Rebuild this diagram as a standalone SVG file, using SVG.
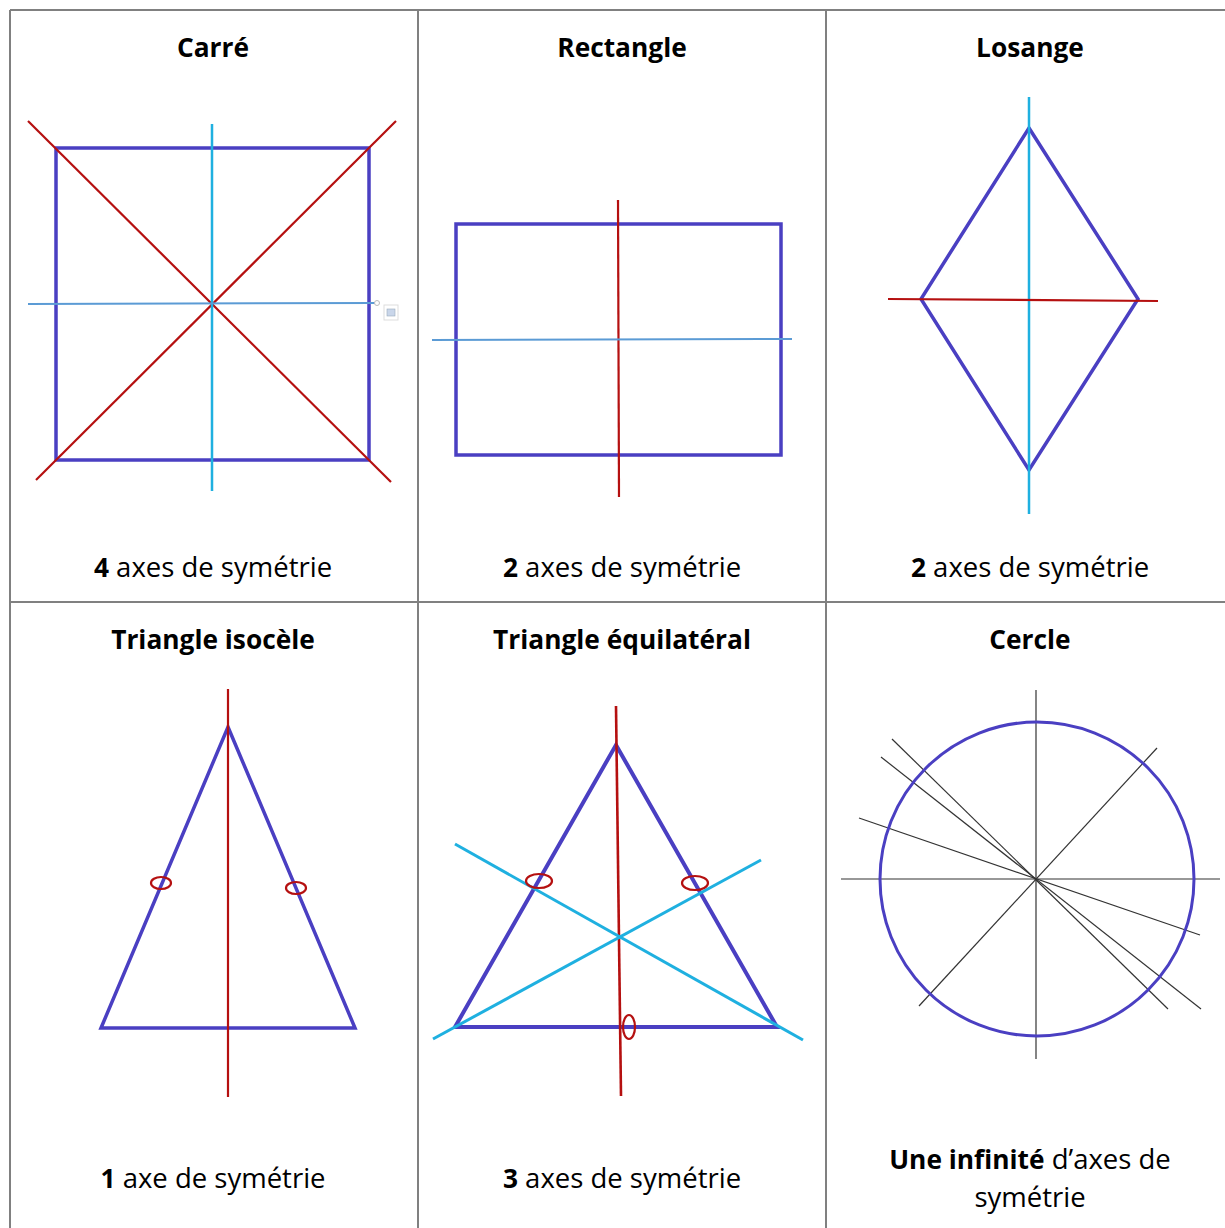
<svg xmlns="http://www.w3.org/2000/svg" width="1225" height="1228" viewBox="0 0 1225 1228">
<style>
.grid{stroke:#808080;stroke-width:2;fill:none}
.shape{stroke:#4a3fc2;stroke-width:3.5;fill:none;stroke-linejoin:miter}
.red{stroke:#b51010;stroke-width:2.2;fill:none}
.cyan{stroke:#1fb0e0;stroke-width:2.5;fill:none}
.lblue{stroke:#5b9bd5;stroke-width:2;fill:none}
.blk{stroke:#333;stroke-width:1.2;fill:none}
.t{font-family:"Open Sans","Noto Sans",sans-serif;font-size:27.5px;fill:#000;text-anchor:middle}
.b{font-weight:bold;font-size:26.3px}
</style>
<rect width="1225" height="1228" fill="#fff"/>
<g id="grid">
<path class="grid" d="M10,10 H1225 M10,10 V1228 M418,10 V1228 M826,10 V1228 M10,602 H1225"/>
</g>
<g id="carre">
<text class="t b" x="213" y="57">Carré</text>
<rect class="shape" x="56" y="148" width="313" height="312"/>
<line class="red" x1="28" y1="121" x2="391" y2="482"/>
<line class="red" x1="396" y1="121" x2="36" y2="480"/>
<line class="cyan" x1="212" y1="124" x2="212" y2="491"/>
<line class="lblue" x1="28" y1="304" x2="376" y2="303"/>
<circle cx="377" cy="303" r="2.5" fill="#fff" stroke="#bbb" stroke-width="1"/>
<rect x="384" y="305" width="14" height="15" fill="#fff" stroke="#ddd" stroke-width="1"/>
<rect x="387" y="309" width="8" height="7" fill="#c9d6ea" stroke="#9ab" stroke-width="0.6"/>
<text class="t" x="213" y="577"><tspan class="b">4</tspan> axes de symétrie</text>
</g>
<g id="rectangle">
<text class="t b" x="622" y="57">Rectangle</text>
<rect class="shape" x="456" y="224" width="325" height="231"/>
<line class="red" x1="618" y1="200" x2="619" y2="497"/>
<line class="lblue" x1="432" y1="340" x2="792" y2="339"/>
<text class="t" x="622" y="577"><tspan class="b">2</tspan> axes de symétrie</text>
</g>
<g id="losange">
<text class="t b" x="1030" y="57">Losange</text>
<polygon class="shape" points="1029,128 1138,299 1029,470 921,299"/>
<line class="cyan" x1="1029" y1="97" x2="1029" y2="514"/>
<line class="red" x1="888" y1="299" x2="1158" y2="301"/>
<text class="t" x="1030" y="577"><tspan class="b">2</tspan> axes de symétrie</text>
</g>
<g id="isocele">
<text class="t b" x="213" y="649">Triangle isocèle</text>
<polygon class="shape" points="228,727 355,1028 101,1028"/>
<line class="red" x1="228" y1="689" x2="228" y2="1097"/>
<ellipse class="red" cx="161" cy="883" rx="10" ry="6"/>
<ellipse class="red" cx="296" cy="888" rx="10" ry="6"/>
<text class="t" x="213" y="1188"><tspan class="b">1</tspan> axe de symétrie</text>
</g>
<g id="equilateral">
<text class="t b" x="622" y="649">Triangle équilatéral</text>
<polygon class="shape" points="616,745 777,1027 455,1027" style="stroke-width:4"/>
<line class="red" x1="616" y1="706" x2="621" y2="1096" style="stroke-width:2.6"/>
<line class="cyan" x1="455" y1="844" x2="803" y2="1040" style="stroke-width:3"/>
<line class="cyan" x1="433" y1="1039" x2="761" y2="860" style="stroke-width:3"/>
<ellipse class="red" cx="539" cy="881" rx="13" ry="7"/>
<ellipse class="red" cx="695" cy="883" rx="13" ry="7"/>
<ellipse class="red" cx="629" cy="1027" rx="6" ry="12"/>
<text class="t" x="622" y="1188"><tspan class="b">3</tspan> axes de symétrie</text>
</g>
<g id="cercle">
<text class="t b" x="1030" y="649">Cercle</text>
<line class="blk" x1="1036" y1="690" x2="1036" y2="1059"/>
<line class="blk" x1="841" y1="879" x2="1220" y2="879"/>
<line class="blk" x1="919" y1="1006" x2="1157" y2="748"/>
<line class="blk" x1="892" y1="739" x2="1168" y2="1009"/>
<line class="blk" x1="881" y1="757" x2="1201" y2="1009"/>
<line class="blk" x1="859" y1="818" x2="1200" y2="935"/>
<circle cx="1037" cy="879" r="157" fill="none" stroke="#4a3fc2" stroke-width="3"/>
<text class="t" x="1030" y="1169"><tspan class="b">Une infinité</tspan> d’axes de</text>
<text class="t" x="1030" y="1207">symétrie</text>
</g>
</svg>
